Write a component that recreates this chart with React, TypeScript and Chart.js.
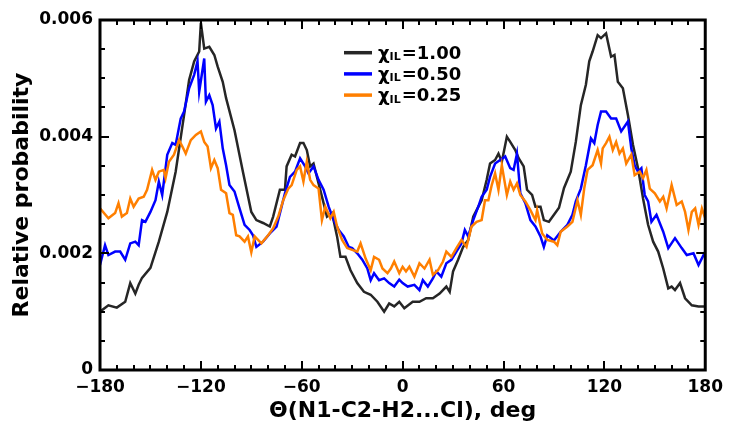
import React, { useEffect, useRef } from 'react';
import { Chart, registerables } from 'chart.js';

Chart.register(...registerables);

const FONT = '"DejaVu Sans", "Liberation Sans", sans-serif';

// Dihedral angle (deg) and relative probability (in units of 1e-3)
const angle100 = [-180,-175,-170,-165,-162,-159,-157,-155,-150,-145,
  -140,-135,-130,-127,-124,-121,-120,-118,-115,-112,
  -110,-107,-105,-100,-95,-90,-87,-83,-79,-77,
  -73,-70,-69,-66,-64,-61,-59,-57,-55,-53,
  -50,-47,-45,-42,-39,-37,-34,-31,-27,-23,
  -19,-15,-11,-8,-5,-2,1,6,10,14,
  18,22,26,28,30,33,36,39,42,44,
  47,50,52,55,57,59,62,64,67,69,
  72,74,77,79,82,84,87,90,93,96,
  100,103,106,109,111,113,116,118,121,124,
  126,128,131,134,137,140,143,146,149,152,
  155,158,160,162,165,168,172,176,180];
const prob100 = [1.0,1.11,1.07,1.17,1.49,1.31,1.46,1.58,1.75,2.2,
  2.71,3.40,4.37,4.97,5.29,5.46,5.95,5.51,5.54,5.4,
  5.2,4.94,4.66,4.11,3.40,2.71,2.57,2.52,2.46,2.63,
  3.09,3.09,3.49,3.69,3.66,3.89,3.89,3.77,3.49,3.54,
  3.2,2.86,2.63,2.69,2.29,1.94,1.94,1.71,1.49,1.34,
  1.29,1.17,1.0,1.14,1.09,1.17,1.06,1.17,1.17,1.23,
  1.23,1.31,1.43,1.34,1.69,1.89,2.11,2.23,2.63,2.74,
  2.91,3.26,3.54,3.6,3.71,3.57,4.0,3.91,3.77,3.63,
  3.49,3.09,3.0,2.8,2.8,2.57,2.54,2.66,2.78,3.12,
  3.40,3.91,4.54,4.89,5.29,5.46,5.74,5.69,5.77,5.37,
  5.4,4.94,4.83,4.37,3.86,3.46,2.94,2.49,2.2,2.03,
  1.74,1.40,1.43,1.37,1.49,1.23,1.11,1.09,1.09];

const angle050 = [-180,-177,-175,-171,-168,-165,-162,-159,-157,-155,
  -153,-150,-147,-145,-143,-140,-137,-135,-132,-130,
  -127,-124,-122,-121,-118,-117,-115,-113,-111,-109,
  -107,-105,-103,-100,-97,-94,-91,-89,-87,-83,
  -79,-75,-72,-70,-67,-64,-61,-58,-56,-53,
  -50,-47,-44,-41,-38,-35,-32,-30,-27,-24,
  -21,-19,-17,-14,-11,-8,-5,-2,0,3,
  7,10,12,15,18,20,23,26,29,32,
  35,37,39,42,45,47,50,52,55,58,
  61,64,66,68,70,73,76,79,82,84,
  86,90,94,98,101,103,106,109,112,114,
  116,118,121,124,127,130,134,136,138,140,
  142,144,146,148,151,155,158,162,166,169,
  173,176,180];
const prob050 = [1.80,2.14,1.97,2.03,2.03,1.89,2.17,2.2,2.14,2.57,
  2.54,2.71,2.91,3.23,3.0,3.69,3.89,3.86,4.31,4.43,
  4.83,5.06,5.29,4.77,5.34,4.6,4.71,4.54,4.14,4.26,
  3.8,3.51,3.17,3.06,2.77,2.49,2.4,2.31,2.11,2.2,
  2.34,2.46,2.8,3.03,3.31,3.40,3.63,3.49,3.37,3.49,
  3.26,3.09,2.8,2.57,2.4,2.29,2.11,2.09,2.0,1.89,
  1.74,1.54,1.66,1.54,1.57,1.49,1.43,1.55,1.49,1.43,
  1.46,1.37,1.54,1.43,1.57,1.69,1.6,1.83,1.89,2.03,
  2.17,2.4,2.29,2.57,2.8,2.97,3.09,3.31,3.54,3.6,
  3.66,3.46,3.43,3.71,3.03,2.86,2.57,2.46,2.29,2.11,
  2.31,2.22,2.37,2.49,2.66,2.89,3.11,3.51,3.97,3.89,
  4.2,4.43,4.43,4.31,4.31,4.09,4.26,3.8,3.51,3.40,
  3.46,3.0,2.89,2.54,2.66,2.37,2.09,2.26,2.09,1.97,
  2.0,1.8,2.03];

const angle025 = [-180,-175,-171,-169,-167,-164,-162,-160,-157,-154,
  -152,-149,-147,-145,-142,-141,-139,-136,-133,-131,
  -129,-126,-123,-120,-118,-116,-114,-112,-110,-108,
  -105,-103,-101,-99,-97,-94,-92,-90,-88,-86,
  -84,-80,-77,-74,-71,-68,-66,-63,-61,-59,
  -57,-55,-53,-50,-48,-46,-43,-41,-39,-36,
  -33,-30,-27,-25,-22,-19,-17,-14,-12,-9,
  -7,-5,-2,0,2,4,7,10,13,16,
  18,21,24,26,29,32,35,38,41,44,
  47,49,51,53,55,57,59,62,64,66,
  68,70,73,76,79,80,83,86,90,92,
  94,98,101,104,106,108,110,113,116,118,
  119,121,123,125,127,129,131,133,136,138,
  141,143,145,147,150,153,155,157,160,163,
  166,168,170,172,174,176,178,180];
const prob025 = [2.77,2.6,2.69,2.86,2.63,2.69,2.94,2.8,2.94,2.97,
  3.09,3.43,3.26,3.40,3.43,3.29,3.57,3.69,3.94,3.83,
  3.71,3.94,4.03,4.09,3.91,3.83,3.46,3.6,3.46,3.09,
  3.03,2.69,2.66,2.31,2.29,2.2,2.29,2.02,2.29,2.23,
  2.17,2.31,2.43,2.63,2.91,3.11,3.17,3.43,3.49,3.23,
  3.57,3.26,3.17,3.11,2.57,2.8,2.6,2.71,2.46,2.23,
  2.09,2.06,2.03,2.17,1.91,1.71,1.94,1.89,1.74,1.66,
  1.74,1.86,1.66,1.77,1.69,1.77,1.6,1.83,1.74,1.89,
  1.63,1.71,1.86,2.03,1.94,2.09,2.23,2.11,2.46,2.54,
  2.57,2.91,2.91,3.17,3.37,3.09,3.51,3.0,3.23,3.09,
  3.2,3.0,2.89,2.74,2.57,2.74,2.34,2.23,2.2,2.14,
  2.37,2.46,2.54,2.91,2.66,3.11,3.43,3.51,3.77,3.54,
  3.8,3.89,4.0,3.77,3.91,3.71,3.8,3.54,3.69,3.34,
  3.4,3.29,3.43,3.11,3.03,2.89,2.97,2.77,3.17,2.83,
  2.89,2.71,2.4,2.71,2.77,2.49,2.77,2.6];

const seriesValues = ['1.00', '0.50', '0.25'];
const seriesColors = ['#262626', '#0000ff', '#ff7f00'];
const xTickValues = [-180, -120, -60, 0, 60, 120, 180];
const yTickValues = [0, 0.002, 0.004, 0.006];

const toPoints = (xs: number[], ys: number[]) => {
  const n = Math.min(xs.length, ys.length);
  const pts: { x: number; y: number }[] = [];
  for (let i = 0; i < n; i++) pts.push({ x: xs[i], y: ys[i] / 1000 });
  return pts;
};

const framePlugin = {
  id: 'frameTicksLegend',
  afterDraw(chart: any) {
    const { ctx, chartArea: a, scales } = chart;
    const xs = scales.x;
    const ys = scales.y;
    ctx.save();
    ctx.strokeStyle = '#000';
    ctx.lineCap = 'butt';
    ctx.lineWidth = 2;
    ctx.beginPath();
    for (let v = -180; v <= 180; v += 10) {
      const px = Math.round(xs.getPixelForValue(v));
      const len = v % 60 === 0 ? 9 : 5;
      ctx.moveTo(px, a.bottom);
      ctx.lineTo(px, a.bottom - len);
      ctx.moveTo(px, a.top);
      ctx.lineTo(px, a.top + len);
    }
    for (let k = 0; k <= 12; k++) {
      const py = Math.round(ys.getPixelForValue(k * 0.0005));
      const len = k % 4 === 0 ? 9 : 5;
      ctx.moveTo(a.left, py);
      ctx.lineTo(a.left + len, py);
      ctx.moveTo(a.right, py);
      ctx.lineTo(a.right - len, py);
    }
    ctx.stroke();
    ctx.lineWidth = 3;
    ctx.strokeRect(a.left, a.top, a.right - a.left, a.bottom - a.top);

    // legend
    const x0 = 344;
    const lineLen = 28;
    const y0 = 52.7;
    const dy = 21.2;
    ctx.textBaseline = 'alphabetic';
    ctx.fillStyle = '#000';
    seriesValues.forEach((val, i) => {
      const yy = y0 + i * dy;
      ctx.strokeStyle = seriesColors[i];
      ctx.lineWidth = 3.5;
      ctx.beginPath();
      ctx.moveTo(x0, yy);
      ctx.lineTo(x0 + lineLen, yy);
      ctx.stroke();
      let tx = x0 + lineLen + 6;
      const base = yy + 6;
      ctx.font = `bold 18px ${FONT}`;
      ctx.fillText('\u03c7', tx, base);
      tx += ctx.measureText('\u03c7').width;
      ctx.font = `bold 11px ${FONT}`;
      ctx.fillText('IL', tx, base + 1.5);
      tx += ctx.measureText('IL').width + 1;
      ctx.font = `bold 18px ${FONT}`;
      ctx.fillText('=' + val, tx, base);
    });
    ctx.restore();
  },
};

export default function App() {
  const ref = useRef<HTMLCanvasElement | null>(null);

  useEffect(() => {
    if (!ref.current) return;
    const tickFont = { family: FONT, size: 17, weight: 'bold' as const };
    const titleFont = { family: FONT, size: 22, weight: 'bold' as const };
    const datasets = [
      { label: '\u03c7IL=1.00', data: toPoints(angle100, prob100), borderColor: seriesColors[0], order: 3 },
      { label: '\u03c7IL=0.50', data: toPoints(angle050, prob050), borderColor: seriesColors[1], order: 2 },
      { label: '\u03c7IL=0.25', data: toPoints(angle025, prob025), borderColor: seriesColors[2], order: 1 },
    ].map((d) => ({ ...d, borderWidth: 2.5, pointRadius: 0, tension: 0, fill: false }));

    const chart = new Chart(ref.current, {
      type: 'line',
      data: { datasets },
      plugins: [framePlugin],
      options: {
        animation: false,
        responsive: false,
        maintainAspectRatio: false,
        layout: { padding: { top: 20, right: 22, left: 0, bottom: 0 } },
        plugins: { legend: { display: false }, tooltip: { enabled: false } },
        scales: {
          x: {
            type: 'linear',
            min: -180,
            max: 180,
            grid: { display: false, drawTicks: false },
            border: { display: false },
            afterBuildTicks: (s: any) => { s.ticks = xTickValues.map((v) => ({ value: v })); },
            afterFit: (s: any) => { s.height = 57; },
            ticks: {
              font: tickFont,
              color: '#000',
              padding: 7,
              maxRotation: 0,
              autoSkip: false,
              callback: (v: any) => (Number(v) < 0 ? '\u2212' + Math.abs(Number(v)) : String(v)),
            },
            title: {
              display: true,
              text: '\u0398(N1-C2-H2...Cl), deg',
              font: titleFont,
              color: '#000',
              padding: { top: 0, bottom: 3 },
            },
          },
          y: {
            type: 'linear',
            min: 0,
            max: 0.006,
            grid: { display: false, drawTicks: false },
            border: { display: false },
            afterBuildTicks: (s: any) => { s.ticks = yTickValues.map((v) => ({ value: v })); },
            afterFit: (s: any) => { s.width = 100; },
            ticks: {
              font: tickFont,
              color: '#000',
              padding: 7,
              autoSkip: false,
              callback: (v: any) => (Number(v) === 0 ? '0' : Number(v).toFixed(3)),
            },
            title: {
              display: true,
              text: 'Relative probability',
              font: titleFont,
              color: '#000',
              padding: { top: 9, bottom: 0 },
            },
          },
        },
      },
    });
    return () => chart.destroy();
  }, []);

  return (
    <div style={{ position: 'fixed', left: 0, top: 0, width: 730, height: 427, background: '#fff' }}>
      <canvas ref={ref} width={730} height={427} style={{ display: 'block', width: 730, height: 427 }} />
    </div>
  );
}
